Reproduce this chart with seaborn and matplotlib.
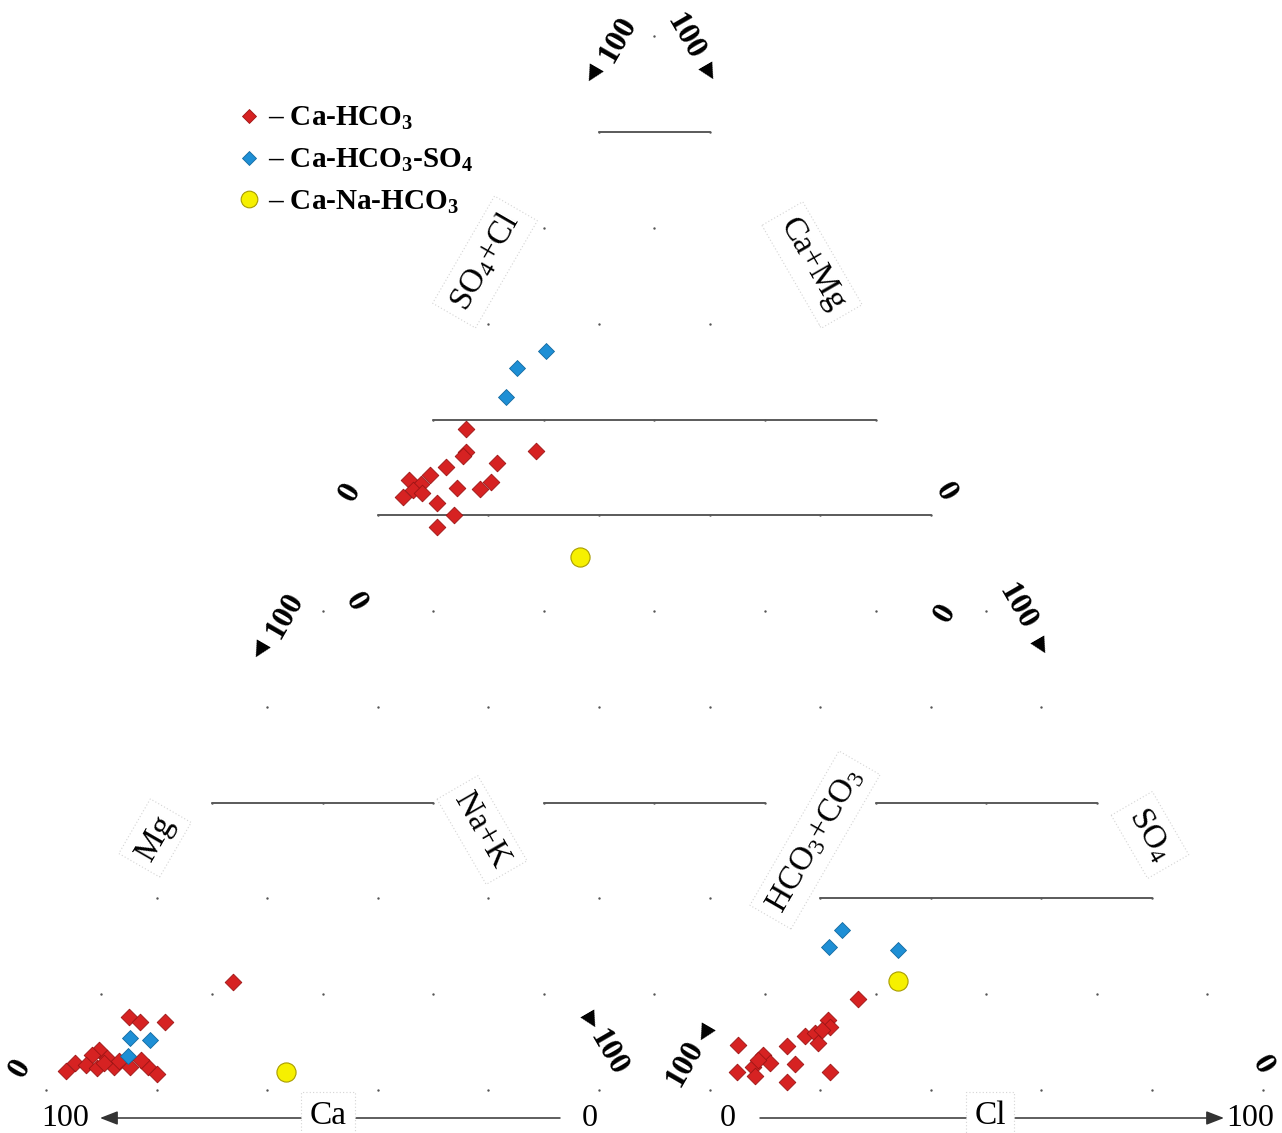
import numpy as np
import pandas as pd
import matplotlib
matplotlib.use("Agg")
import matplotlib.pyplot as plt
from matplotlib.lines import Line2D
import seaborn as sns

# ---------------- data (percent, meq) ----------------
types = ["Ca-HCO3", "Ca-HCO3-SO4", "Ca-Na-HCO3"]

# cations
cat_type = ["Ca-HCO3"] * 18 + ["Ca-HCO3-SO4"] * 3 + ["Ca-Na-HCO3"]
cat_ca = [54.9, 77.4, 76.0, 71.5, 86.3, 88.0, 91.9, 94.4, 90.2, 88.4, 85.6, 85.3,
          82.5, 79.1, 78.3, 83.7, 86.6, 79.6, 79.3, 76.0, 81.7, 54.7]
cat_mg = [22.5, 15.3, 14.1, 14.1, 8.4, 7.3, 5.7, 4.0, 5.3, 4.6, 6.7, 4.8,
          4.8, 4.8, 3.4, 6.1, 5.7, 6.3, 10.9, 10.5, 7.1, 3.8]
cat_nak = [22.6, 7.3, 9.9, 14.4, 5.3, 4.7, 2.4, 1.6, 4.5, 7.0, 7.7, 9.9,
           12.7, 16.1, 18.3, 10.2, 7.7, 14.1, 9.8, 13.5, 11.2, 41.5]

# anions
an_type = ["Ca-HCO3"] * 18 + ["Ca-HCO3-SO4"] * 3 + ["Ca-Na-HCO3"]
an_hco3 = [63.8, 71.2, 71.6, 77.1, 75.0, 75.4, 81.4, 90.2, 86.7, 86.2, 89.8, 81.8,
           93.2, 90.4, 76.4, 85.1, 88.1, 73.3, 59.3, 63.5, 51.4, 54.6]
an_so4 = [18.9, 14.7, 13.2, 11.3, 11.8, 9.9, 9.2, 9.4, 7.3, 5.7, 4.8, 5.5,
          3.8, 2.9, 3.8, 1.7, 6.3, 12.6, 33.4, 29.8, 29.2, 22.7]
an_cl = [17.3, 14.1, 15.2, 11.6, 13.2, 14.7, 9.4, 0.4, 6.0, 8.1, 5.4, 12.7,
         3.0, 6.7, 19.8, 13.2, 5.6, 14.1, 7.3, 6.7, 19.4, 22.7]

# diamond (Ca+Mg %, SO4+Cl %)
dm_type = ["Ca-HCO3"] * 18 + ["Ca-HCO3-SO4"] * 3 + ["Ca-Na-HCO3"]
dm_camg = [93.0, 90.6, 90.7, 78.2, 84.0, 92.7, 94.8, 98.0, 95.5, 96.3, 97.4, 94.3,
           88.5, 84.2, 82.9, 90.6, 86.2, 88.1, 86.8, 90.3, 89.1, 59.0]
dm_socl = [25.0, 22.6, 21.6, 35.3, 27.0, 17.4, 13.7, 9.3, 11.1, 9.0, 6.5, 10.3,
           17.2, 21.3, 24.0, 12.0, 13.9, 9.5, 47.5, 40.5, 35.6, 32.3]

legend_labels = ["\u2013 Ca-HCO$_3$", "\u2013 Ca-HCO$_3$-SO$_4$", "\u2013 Ca-Na-HCO$_3$"]

# ---------------- geometry ----------------
SQ = np.sqrt(3) / 2
GAP = 0.2


def cation_xy(ca, mg, nak):
    ca, mg, nak = map(np.asarray, (ca, mg, nak))
    tot = ca + mg + nak
    b, c = mg / tot, nak / tot
    return c + b / 2, b * SQ


def anion_xy(hco3, so4, cl):
    hco3, so4, cl = map(np.asarray, (hco3, so4, cl))
    tot = hco3 + so4 + cl
    s, c = so4 / tot, cl / tot
    return 1 + GAP + c + s / 2, s * SQ


def diamond_xy(camg, socl):
    c = 1 - np.asarray(camg) / 100
    sc = np.asarray(socl) / 100
    t = 1 + GAP + sc - c
    return c + t / 2, t * SQ


sns.set_theme(style="white")
plt.rcParams["font.family"] = ["Liberation Serif", "DejaVu Sans"]
plt.rcParams["text.color"] = "black"
plt.rcParams["mathtext.fontset"] = "custom"
plt.rcParams["mathtext.rm"] = "Liberation Serif"
plt.rcParams["mathtext.bf"] = "Liberation Serif:bold"
plt.rcParams["mathtext.default"] = "regular"

W, H = 1282, 1133
S, X0, Y0 = 553.0, 46.0, 1090.0
fig = plt.figure(figsize=(W / 100, H / 100), dpi=100)
ax = fig.add_axes([0, 0, 1, 1])


def P(px, py):
    return ((px - X0) / S, (Y0 - py) / S)


# ---------------- faint grid: intersection dots ----------------
steps = np.arange(0, 101, 20)
gx, gy = [], []
for i in steps:
    for j in steps:
        if i + j <= 100:
            x, y = cation_xy(100 - i - j, j, i)
            gx.append(float(x)); gy.append(float(y))
            x, y = anion_xy(100 - i - j, j, i)
            gx.append(float(x)); gy.append(float(y))
        x, y = diamond_xy(i, j)
        gx.append(float(x)); gy.append(float(y))
ax.scatter(gx, gy, s=3, color="#555555", linewidths=0, zorder=1)

# ---------------- visible horizontal grid lines ----------------
line_kw = dict(color="#5a5a5a", lw=1.4, zorder=2)
segs = [
    (cation_xy(40, 60, 0), cation_xy(0, 60, 40)),
    (anion_xy(60, 40, 0), anion_xy(0, 40, 60)),
    (anion_xy(40, 60, 0), anion_xy(0, 60, 40)),
    (diamond_xy(40, 0), diamond_xy(0, 40)),
    (diamond_xy(100, 0), diamond_xy(0, 100)),
    (diamond_xy(100, 20), diamond_xy(20, 100)),
    (diamond_xy(100, 80), diamond_xy(80, 100)),
]
for a, b in segs:
    ax.plot([a[0], b[0]], [a[1], b[1]], **line_kw)

# ---------------- data points ----------------
style = {
    "Ca-HCO3": dict(marker="D", s=72, color="#d62222", edgecolor="#9c1515", linewidth=0.6),
    "Ca-HCO3-SO4": dict(marker="D", s=66, color="#1e8fd5", edgecolor="#146aa0", linewidth=0.6),
    "Ca-Na-HCO3": dict(marker="o", s=190, color="#f6f000", edgecolor="#a89c00", linewidth=0.8),
}

cx, cy = cation_xy(cat_ca, cat_mg, cat_nak)
axx, ayy = anion_xy(an_hco3, an_so4, an_cl)
dx, dy = diamond_xy(dm_camg, dm_socl)
df = pd.concat([
    pd.DataFrame({"x": cx, "y": cy, "type": cat_type}),
    pd.DataFrame({"x": axx, "y": ayy, "type": an_type}),
    pd.DataFrame({"x": dx, "y": dy, "type": dm_type}),
])
for t in types:
    sns.scatterplot(data=df[df["type"] == t], x="x", y="y", ax=ax, legend=False,
                    zorder=5, **style[t])
ax.set_xlim(-X0 / S, (W - X0) / S)
ax.set_ylim((Y0 - H) / S, Y0 / S)
ax.axis("off")

# ---------------- axis labels with boxes ----------------
box = dict(boxstyle="square,pad=0.25", fc="white", ec="#d4d4d4", ls=(0, (1, 2)), lw=0.8)
lab_kw = dict(fontsize=24, ha="center", va="center", bbox=box, zorder=6, color="black")
ax.text(*P(155, 838), "Mg", rotation=60, **lab_kw)
ax.text(*P(482, 830), "Na+K", rotation=-60, **lab_kw)
ax.text(*P(815, 840), "HCO$_3$+CO$_3$", rotation=60, **lab_kw)
ax.text(*P(1150, 835), "SO$_4$", rotation=-60, **lab_kw)
ax.text(*P(485, 262), "SO$_4$+Cl", rotation=60, **lab_kw)
ax.text(*P(812, 265), "Ca+Mg", rotation=-60, **lab_kw)

# bottom axes with arrows
arr_kw = dict(arrowstyle="-|>,head_length=0.9,head_width=0.35", color="#333333", lw=1.1,
              shrinkA=0, shrinkB=0)
ax.annotate("", xy=P(100, 1118), xytext=P(560, 1118), arrowprops=arr_kw, zorder=3)
ax.annotate("", xy=P(1224, 1118), xytext=P(760, 1118), arrowprops=arr_kw, zorder=3)
ax.text(*P(328, 1116), "Ca", **lab_kw)
ax.text(*P(990, 1116), "Cl", **lab_kw)

num_kw = dict(fontsize=23, ha="center", va="center", zorder=6, color="black")
ax.text(*P(65, 1118), "100", **num_kw)
ax.text(*P(590, 1118), "0", **num_kw)
ax.text(*P(728, 1118), "0", **num_kw)
ax.text(*P(1250, 1118), "100", **num_kw)

# rotated 0 labels
for (px, py, r) in [(20, 1068, 60), (355, 602, -60), (350, 492, 60),
                    (945, 492, -60), (945, 613, 60), (1262, 1065, -60)]:
    ax.text(*P(px, py), "0", rotation=r, fontweight="bold", **num_kw)

# rotated 100 labels with arrow heads
tri_kw = dict(fontsize=15, ha="center", va="center", zorder=6,
              family=["DejaVu Sans"], color="black")
for (px, py, r, apx, apy, glyph) in [
    (285, 616, 60, 261, 650, "\u25C0"),
    (608, 1053, -60, 590, 1020, "\u25B6"),
    (618, 40, 60, 594, 74, "\u25C0"),
    (685, 37, -60, 708, 72, "\u25B6"),
    (1017, 607, -60, 1040, 646, "\u25B6"),
    (685, 1064, 60, 706, 1033, "\u25C0"),
]:
    ax.text(*P(px, py), "100", rotation=r, fontweight="bold", **num_kw)
    ax.text(*P(apx, apy), glyph, rotation=r, **tri_kw)

# ---------------- legend ----------------
handles = [
    Line2D([], [], ls="none", marker="D", markersize=7.5, markerfacecolor="#d62222",
           markeredgecolor="#9c1515", markeredgewidth=0.6),
    Line2D([], [], ls="none", marker="D", markersize=7.5, markerfacecolor="#1e8fd5",
           markeredgecolor="#146aa0", markeredgewidth=0.6),
    Line2D([], [], ls="none", marker="o", markersize=12, markerfacecolor="#f6f000",
           markeredgecolor="#a89c00", markeredgewidth=0.8),
]
fig.legend(handles, legend_labels, loc="upper left", bbox_to_anchor=(237 / W, 1 - 105 / H),
           frameon=False, borderpad=0, borderaxespad=0, handlelength=0.8,
           handletextpad=0.25, labelspacing=0.5, labelcolor="black",
           prop=dict(family="Liberation Serif", weight="bold", size=21))

fig.savefig("out.png", dpi=100)
